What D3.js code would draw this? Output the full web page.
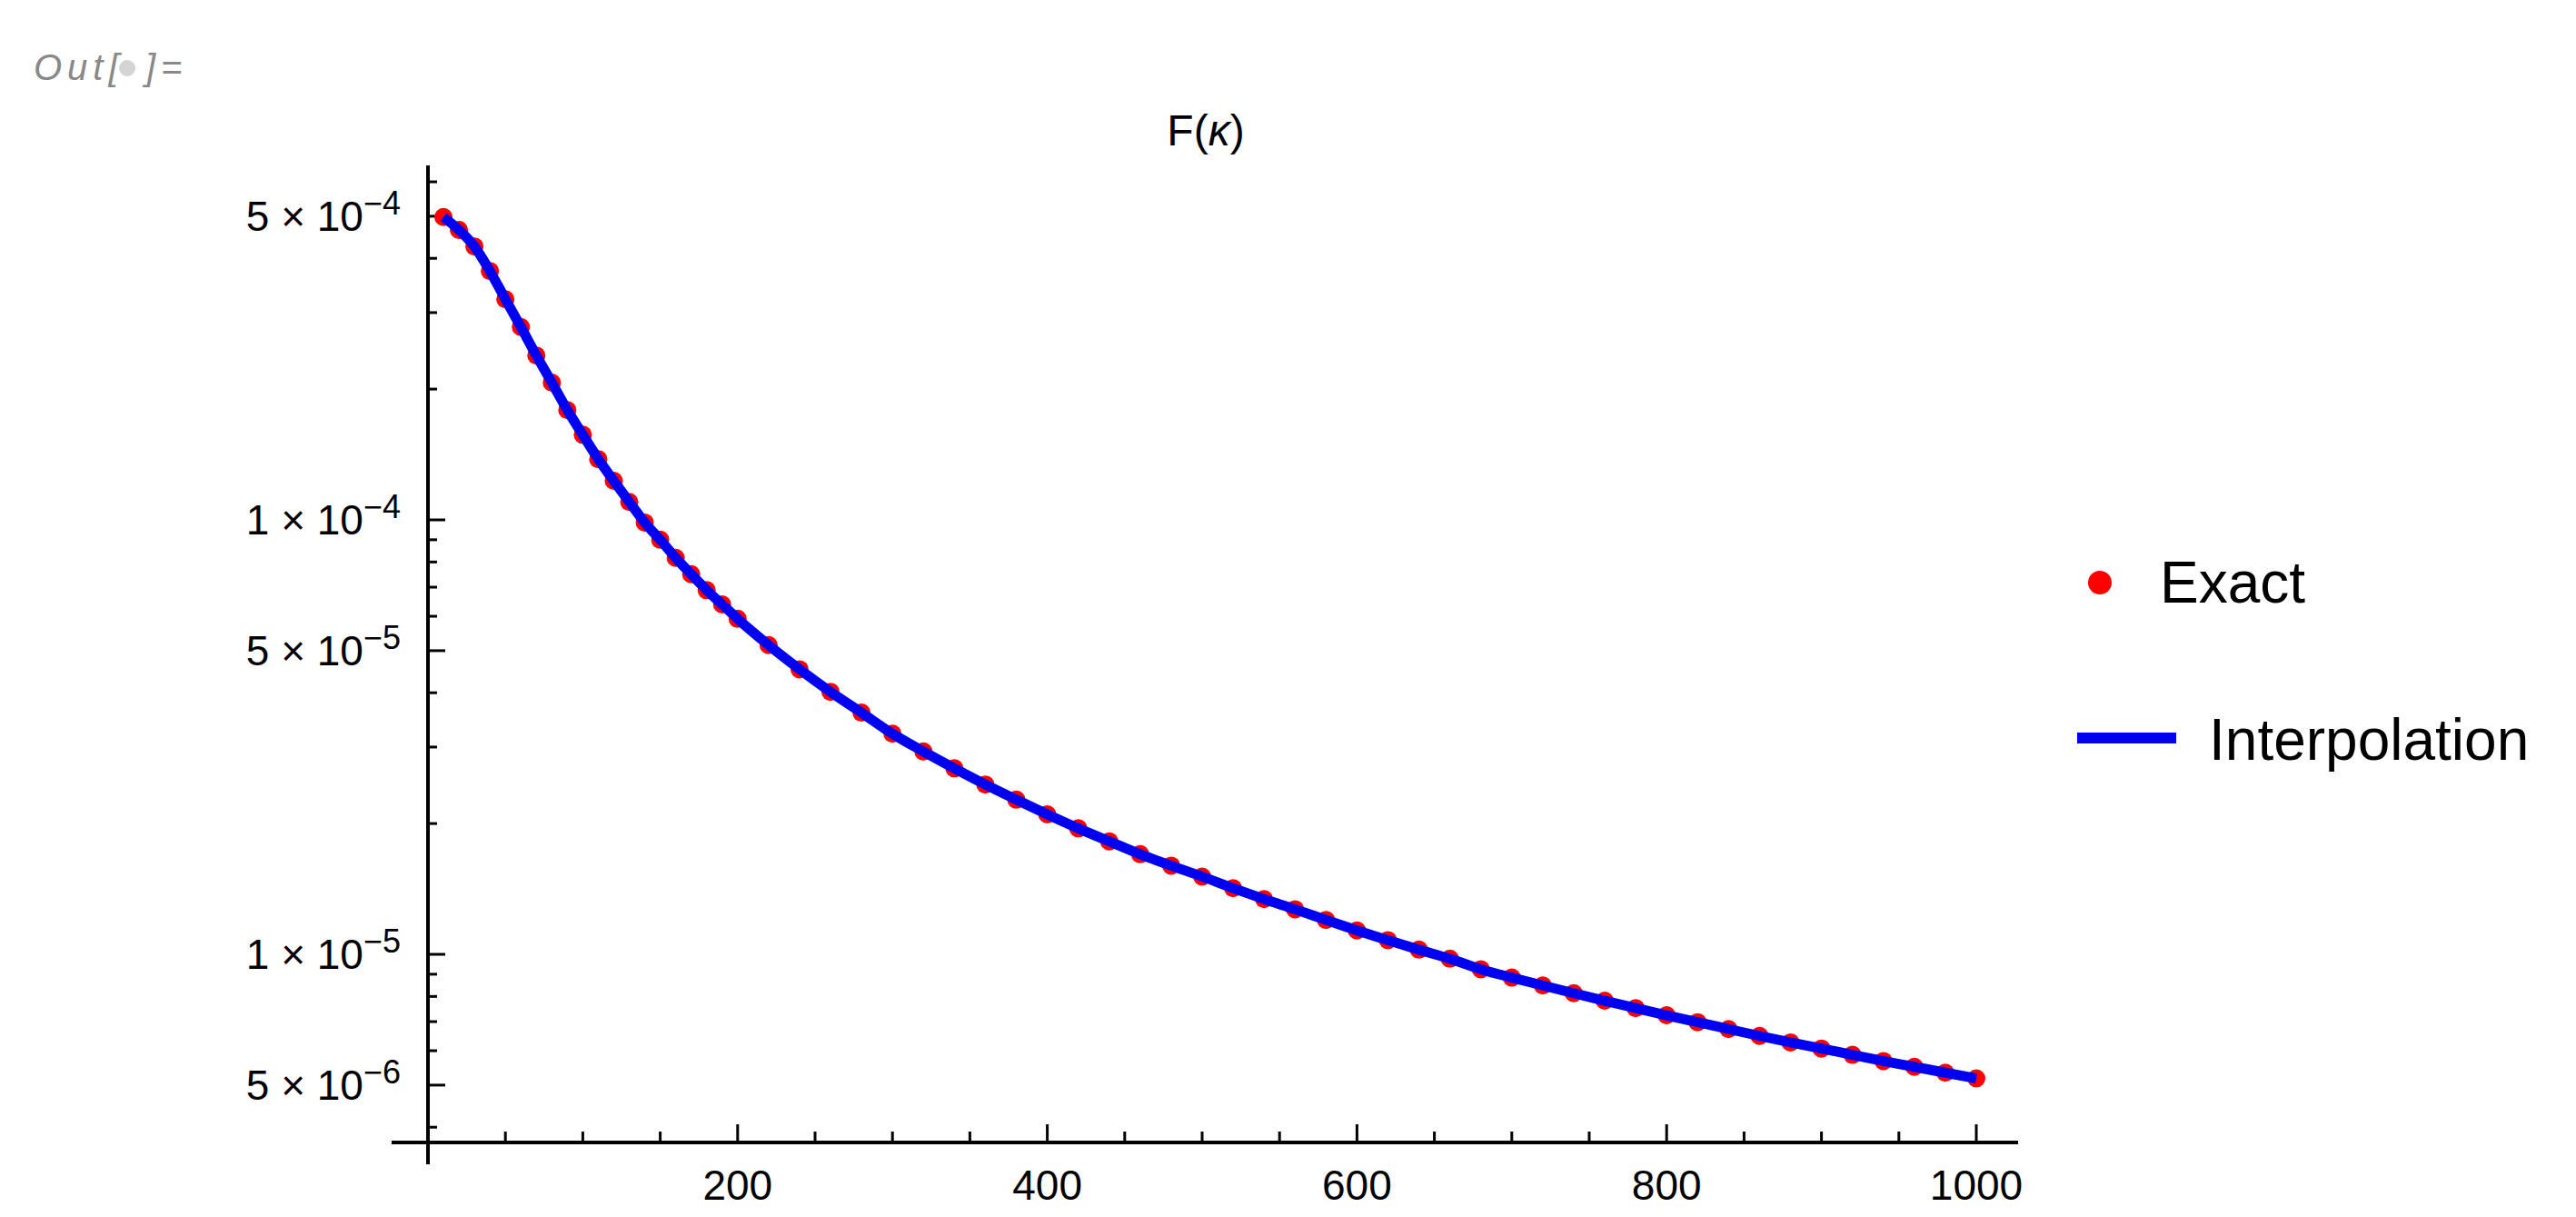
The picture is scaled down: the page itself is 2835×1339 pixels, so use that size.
<!DOCTYPE html>
<html><head><meta charset="utf-8">
<script src="https://cdn.jsdelivr.net/npm/d3@7"></script>
<style>body{margin:0;background:#fff}text{font-family:"Liberation Sans",Arial,sans-serif}</style>
</head><body>
<svg id="c" width="2835" height="1339"></svg>
<script>
const kappa = [10,20,30,40,50,60,70,80,90,100,110,120,130,140,150,160,170,180,190,200,
  220,240,260,280,300,320,340,360,380,400,420,440,460,480,500,520,540,560,580,600,
  620,640,660,680,700,720,740,760,780,800,820,840,860,880,900,920,940,960,980,1000];
const exact = [4.98e-4,4.65e-4,4.26e-4,3.74e-4,3.22e-4,2.78e-4,2.39e-4,2.07e-4,1.79e-4,1.57e-4,
  1.38e-4,1.23e-4,1.10e-4,9.86e-5,9.0e-5,8.18e-5,7.5e-5,6.89e-5,6.39e-5,5.92e-5,
  5.15e-5,4.53e-5,4.02e-5,3.60e-5,3.22e-5,2.93e-5,2.68e-5,2.46e-5,2.27e-5,2.10e-5,
  1.95e-5,1.82e-5,1.70e-5,1.60e-5,1.51e-5,1.42e-5,1.34e-5,1.27e-5,1.20e-5,1.135e-5,
  1.078e-5,1.025e-5,9.77e-6,9.24e-6,8.84e-6,8.48e-6,8.14e-6,7.82e-6,7.52e-6,7.24e-6,
  6.98e-6,6.73e-6,6.49e-6,6.27e-6,6.07e-6,5.87e-6,5.68e-6,5.51e-6,5.34e-6,5.18e-6];
const xMajor = [200,400,600,800,1000];
const xMinor = [50,100,150,250,300,350,450,500,550,650,700,750,850,900,950];
const yMajor = [[5e-4,"5","−4"],[1e-4,"1","−4"],[5e-5,"5","−5"],[1e-5,"1","−5"],[5e-6,"5","−6"]];
const yMinor = [6e-4,4e-4,3e-4,2e-4,9e-5,8e-5,7e-5,6e-5,4e-5,3e-5,2e-5,9e-6,8e-6,7e-6,6e-6,4e-6];
const title = "F(κ)";
const legendLabels = ["Exact","Interpolation"];

const svg = d3.select("#c");
const x = d3.scaleLinear().domain([0,1000]).range([471,2175]);
const y = d3.scaleLog().domain([1e-4,1e-5]).range([572,1050]);
const X0 = 1257, Y0 = 471;

svg.append("text").attr("x",37).attr("y",88).attr("font-size",40).attr("font-style","italic")
  .attr("fill","#888").attr("letter-spacing",6).text("Out[");
svg.append("circle").attr("cx",140).attr("cy",75).attr("r",9).attr("fill","#d4d4d4");
svg.append("text").attr("x",160).attr("y",88).attr("font-size",40).attr("font-style","italic")
  .attr("fill","#888").attr("letter-spacing",6).text("]=");

const ax = svg.append("g").attr("stroke","#000");
ax.append("line").attr("x1",x(-23.5)).attr("x2",x(1027)).attr("y1",X0).attr("y2",X0).attr("stroke-width",4);
ax.append("line").attr("x1",Y0).attr("x2",Y0).attr("y1",182).attr("y2",1281).attr("stroke-width",4);
xMajor.forEach(v=>ax.append("line").attr("x1",x(v)).attr("x2",x(v)).attr("y1",X0).attr("y2",X0-20).attr("stroke-width",3));
xMinor.forEach(v=>ax.append("line").attr("x1",x(v)).attr("x2",x(v)).attr("y1",X0).attr("y2",X0-12).attr("stroke-width",3));
yMajor.forEach(d=>ax.append("line").attr("x1",Y0).attr("x2",Y0+19).attr("y1",y(d[0])).attr("y2",y(d[0])).attr("stroke-width",3));
yMinor.forEach(v=>ax.append("line").attr("x1",Y0).attr("x2",Y0+10).attr("y1",y(v)).attr("y2",y(v)).attr("stroke-width",3));

xMajor.forEach(v=>svg.append("text").attr("x",x(v)).attr("y",1320).attr("text-anchor","middle")
  .attr("font-size",46).text(v));
yMajor.forEach(d=>{
  const t = svg.append("text").attr("x",441).attr("y",y(d[0])+16).attr("text-anchor","end").attr("font-size",46);
  t.append("tspan").text(d[1]+" × 10");
  t.append("tspan").attr("dy",-18).attr("font-size",36).text(d[2]);
});

svg.append("text").attr("x",1327).attr("y",160).attr("text-anchor","middle").attr("font-size",48)
  .html('F(<tspan font-style="italic">κ</tspan>)');

const line = d3.line().x((d,i)=>x(kappa[i])).y(d=>y(d)).curve(d3.curveMonotoneX);
svg.selectAll("circle.pt").data(exact).enter().append("circle").attr("class","pt")
  .attr("cx",(d,i)=>x(kappa[i])).attr("cy",d=>y(d)).attr("r",10).attr("fill","#f00");
svg.append("path").attr("d",line(exact)).attr("fill","none").attr("stroke","#0000f0").attr("stroke-width",11);

svg.append("circle").attr("cx",2311).attr("cy",641).attr("r",13).attr("fill","#f00");
svg.append("text").attr("x",2377).attr("y",663).attr("font-size",64).text(legendLabels[0]);
svg.append("line").attr("x1",2286).attr("x2",2395).attr("y1",812).attr("y2",812).attr("stroke","#0000f0").attr("stroke-width",12);
svg.append("text").attr("x",2431).attr("y",836).attr("font-size",64).text(legendLabels[1]);
</script>
</body></html>
